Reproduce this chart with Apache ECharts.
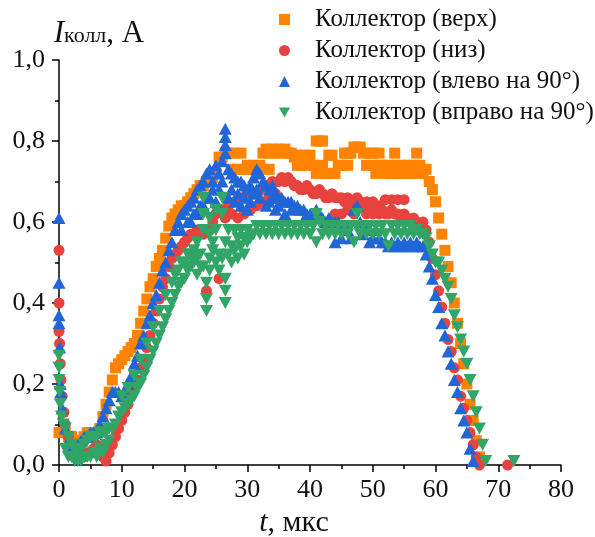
<!DOCTYPE html>
<html>
<head>
<meta charset="utf-8">
<script src="https://cdn.jsdelivr.net/npm/echarts@6/dist/echarts.min.js"></script>
<style>
  html, body { margin: 0; padding: 0; background: #fff; }
  #chart { width: 595px; height: 537px; }
</style>
</head>
<body>
<div id="chart"></div>
<script>
// legend names
var names = ["Коллектор (верх)", "Коллектор (низ)", "Коллектор (влево на 90°)", "Коллектор (вправо на 90°)"];

// [t, мкс ; I, A]
var verhData = [[0,0.08],[0.5,0.08],[1,0.08],[1.5,0.07],[2,0.07],[2.5,0.06],[3,0.05],[3.5,0.06],[4,0.07],[4.5,0.08],[5,0.08],[5.5,0.08],[6,0.08],[6.5,0.09],[7,0.12],[7.5,0.15],[8,0.18],[8.5,0.21],[9,0.24],[9.5,0.25],[10,0.26],[10.5,0.27],[11,0.28],[11.5,0.29],[12,0.3],[12.5,0.32],[13,0.35],[13.5,0.38],[14,0.41],[14.5,0.44],[15,0.46],[15.5,0.49],[16,0.51],[16.5,0.53],[17,0.56],[17.5,0.59],[18,0.61],[18.5,0.62],[19,0.63],[19.5,0.64],[20,0.64],[20.5,0.65],[21,0.66],[21.5,0.67],[22,0.68],[22.5,0.69],[23,0.69],[23.5,0.7],[24,0.7],[24.5,0.71],[25,0.72],[25.5,0.76],[26,0.76],[26.5,0.77],[27,0.77],[27.5,0.73],[28,0.77],[28.5,0.73],[29,0.77],[29.5,0.73],[30,0.74],[30.5,0.73],[31,0.74],[31.5,0.73],[32,0.74],[32.5,0.77],[32.5,0.73],[33,0.78],[33.5,0.77],[33.5,0.73],[34,0.78],[34.5,0.77],[35,0.78],[35.5,0.77],[36,0.78],[36.5,0.77],[37,0.77],[37.5,0.76],[38,0.74],[38,0.765],[38.5,0.74],[39,0.765],[39.5,0.74],[40,0.765],[40.5,0.74],[41,0.8],[41,0.72],[41.5,0.8],[42,0.74],[42,0.8],[42.5,0.72],[43,0.765],[43,0.72],[43.5,0.765],[44,0.72],[44.5,0.74],[45,0.74],[45.5,0.77],[46,0.74],[46,0.77],[46.5,0.77],[47,0.785],[47.5,0.785],[48,0.785],[48.5,0.77],[49,0.74],[49.5,0.77],[50,0.74],[50,0.77],[50.5,0.72],[51,0.77],[51,0.74],[51.5,0.74],[52,0.72],[52.5,0.74],[53,0.72],[53.5,0.77],[53.5,0.74],[54,0.72],[54.5,0.74],[55,0.72],[55.5,0.74],[56,0.72],[56.5,0.74],[57,0.77],[57,0.72],[57.5,0.74],[58,0.72],[58.5,0.73],[59,0.7],[59.5,0.68],[60,0.65],[60.5,0.61],[61,0.57],[61.5,0.53],[62,0.49],[62.5,0.45],[63,0.4],[63.5,0.35],[64,0.3],[64.5,0.25],[65,0.2],[65.5,0.15],[66,0.11],[66.5,0.06],[67,0.02]];

var nizData = [[0,0.53],[0,0.4],[0,0.33],[0.1,0.3],[0.2,0.25],[0.3,0.21],[0.5,0.17],[0.8,0.13],[1,0.1],[1.5,0.07],[2,0.05],[2.5,0.04],[3,0.03],[3.5,0.03],[4,0.02],[4.5,0.03],[5,0.03],[5.5,0.04],[6,0.05],[6.5,0.04],[7,0.02],[7.5,0.01],[8,0.03],[8.5,0.05],[9,0.07],[9.5,0.09],[10,0.11],[10.5,0.13],[11,0.15],[11.5,0.17],[12,0.19],[12.5,0.21],[13,0.24],[13.5,0.26],[14,0.29],[14.5,0.32],[15,0.35],[15.5,0.38],[16,0.41],[16.5,0.44],[17,0.46],[17.5,0.49],[18,0.51],[18.5,0.52],[19,0.53],[19.5,0.54],[20,0.55],[20.5,0.56],[21,0.57],[21.5,0.57],[22,0.58],[22.5,0.58],[23,0.57],[23.5,0.43],[24,0.58],[24.5,0.6],[25,0.62],[25.5,0.46],[26,0.63],[26.5,0.61],[27,0.64],[27.5,0.62],[28,0.65],[28.5,0.61],[29,0.66],[29.5,0.62],[30,0.67],[30.5,0.63],[31,0.67],[31.5,0.64],[32,0.68],[32.5,0.65],[33,0.69],[33.5,0.66],[34,0.7],[34.5,0.67],[35,0.7],[35.5,0.71],[36,0.7],[36.5,0.71],[37,0.7],[37.5,0.69],[38,0.69],[38.5,0.68],[39,0.68],[39.5,0.69],[40,0.68],[40.5,0.67],[41,0.67],[41.5,0.68],[42,0.67],[42.5,0.66],[43,0.66],[43.5,0.67],[44,0.66],[44,0.62],[44.5,0.66],[45,0.66],[45,0.62],[45.5,0.65],[46,0.66],[46,0.63],[46.5,0.65],[47,0.65],[47,0.62],[47.5,0.66],[48,0.65],[48.5,0.64],[49,0.65],[49,0.62],[49.5,0.64],[50,0.65],[50,0.62],[50.5,0.64],[51,0.64],[51,0.62],[51.5,0.63],[52,0.655],[52,0.62],[52.5,0.62],[53,0.655],[53,0.63],[53.5,0.62],[54,0.655],[54,0.62],[54.5,0.61],[55,0.655],[55,0.62],[55.5,0.61],[56,0.6],[56.5,0.61],[57,0.6],[57.5,0.59],[58,0.6],[58.5,0.58],[59,0.55],[59.5,0.51],[60,0.47],[60.5,0.43],[61,0.39],[61.5,0.35],[62,0.31],[62.5,0.28],[63,0.24],[63.5,0.21],[64,0.17],[64.5,0.14],[65,0.11],[65.5,0.08],[66,0.05],[66.5,0.02],[67,0.0],[71.5,0.0]];

var vlevoData = [[0,0.61],[0,0.45],[0,0.37],[0,0.35],[0.1,0.29],[0.2,0.2],[0.3,0.18],[0.5,0.14],[1,0.09],[1.5,0.06],[2,0.04],[2.5,0.04],[3,0.05],[3.5,0.06],[4,0.07],[4.5,0.07],[5,0.08],[5.5,0.08],[6,0.08],[6.5,0.1],[7,0.12],[7.5,0.14],[8,0.16],[8.5,0.18],[9,0.18],[9.5,0.18],[10,0.17],[10.5,0.18],[11,0.2],[11.5,0.22],[12,0.25],[12.5,0.27],[13,0.3],[13.5,0.32],[14,0.35],[14.5,0.37],[15,0.4],[15.5,0.42],[16,0.45],[16.5,0.48],[17,0.5],[17.5,0.53],[18,0.55],[18.5,0.58],[19,0.6],[19.5,0.62],[19.5,0.58],[20,0.63],[20.5,0.64],[20.5,0.6],[21,0.65],[21,0.6],[21.5,0.66],[21.5,0.62],[22,0.68],[22,0.62],[22.5,0.69],[22.5,0.64],[23,0.7],[23,0.64],[23.5,0.72],[23.5,0.66],[24,0.73],[24,0.66],[24.5,0.7],[24.5,0.68],[25,0.74],[25,0.65],[25.5,0.72],[25.5,0.68],[26,0.75],[26,0.7],[26.5,0.83],[26.5,0.81],[26.5,0.79],[26.5,0.77],[27,0.73],[27,0.66],[27.5,0.72],[27.5,0.68],[28,0.71],[28,0.65],[28.5,0.7],[28.5,0.67],[29,0.7],[29,0.64],[29.5,0.69],[29.5,0.66],[30,0.68],[30,0.63],[30.5,0.69],[30.5,0.65],[31,0.71],[31,0.67],[31.5,0.73],[31.5,0.68],[32,0.72],[32,0.66],[32.5,0.7],[33,0.69],[33,0.64],[33.5,0.68],[33.5,0.65],[34,0.69],[34,0.66],[34.5,0.67],[34.5,0.63],[35,0.66],[35,0.64],[35.5,0.66],[36,0.65],[36,0.62],[36.5,0.65],[37,0.65],[37,0.63],[37.5,0.64],[38,0.64],[38.5,0.63],[39,0.63],[39.5,0.62],[40,0.62],[40.5,0.61],[41,0.63],[41.5,0.62],[42,0.61],[42.5,0.6],[43,0.61],[43.5,0.6],[44,0.6],[44,0.55],[44.5,0.6],[45,0.59],[45,0.56],[45.5,0.59],[46,0.58],[46.5,0.56],[47,0.63],[47.5,0.64],[48,0.6],[48.5,0.57],[49,0.58],[49.5,0.55],[50,0.56],[50.5,0.58],[51,0.56],[51.5,0.55],[52,0.55],[52.5,0.54],[53,0.55],[53.5,0.54],[54,0.55],[54.5,0.54],[55,0.55],[55.5,0.54],[56,0.55],[56.5,0.54],[57,0.55],[57.5,0.54],[58,0.54],[58.5,0.52],[59,0.49],[59.5,0.46],[60,0.42],[60.5,0.39],[61,0.35],[61.5,0.32],[62,0.28],[62.5,0.25],[63,0.21],[63.5,0.18],[64,0.14],[64.5,0.11],[65,0.08],[65.5,0.04],[66,0.01]];

var vpravoData = [[0,0.27],[0,0.24],[0,0.21],[0.1,0.18],[0.2,0.15],[0.4,0.12],[0.7,0.1],[1,0.09],[1,0.04],[1.5,0.07],[1.5,0.02],[2,0.05],[2,0.02],[2.5,0.04],[2.5,0.01],[3,0.03],[3,0.01],[3.5,0.04],[3.5,0.01],[4,0.05],[4,0.02],[4.5,0.06],[4.5,0.02],[5,0.07],[5,0.02],[5.5,0.07],[5.5,0.03],[6,0.07],[6,0.02],[6.5,0.08],[6.5,0.04],[7,0.08],[7,0.03],[7.5,0.08],[7.5,0.05],[8,0.09],[8,0.06],[8.5,0.09],[9,0.1],[9.5,0.12],[10,0.13],[10,0.17],[10.5,0.14],[11,0.15],[11,0.19],[11.5,0.16],[12,0.17],[12,0.22],[12.5,0.19],[13,0.2],[13,0.26],[13.5,0.22],[14,0.24],[14,0.3],[14.5,0.26],[15,0.28],[15,0.34],[15.5,0.3],[16,0.32],[16,0.38],[16.5,0.34],[17,0.36],[17,0.42],[17.5,0.38],[18,0.4],[18,0.45],[18.5,0.42],[18.5,0.47],[19,0.44],[19,0.48],[19.5,0.45],[19.5,0.5],[20,0.46],[20,0.5],[20.5,0.48],[20.5,0.52],[21,0.49],[21,0.52],[21.5,0.5],[21.5,0.53],[22,0.47],[22,0.51],[22,0.55],[22.5,0.52],[22.5,0.49],[23,0.49],[23,0.58],[23,0.62],[23,0.66],[23.5,0.45],[23.5,0.41],[23.5,0.38],[24,0.51],[24,0.48],[24,0.57],[24,0.61],[24.5,0.53],[24.5,0.55],[25,0.5],[25,0.58],[25,0.63],[25.5,0.48],[25.5,0.52],[26,0.51],[26,0.62],[26,0.66],[26.5,0.46],[26.5,0.43],[26.5,0.4],[26.5,0.55],[27,0.52],[27,0.58],[27.5,0.5],[27.5,0.54],[28,0.53],[28,0.58],[28.5,0.51],[28.5,0.56],[29,0.54],[29,0.58],[29.5,0.52],[29.5,0.56],[30,0.55],[30,0.58],[30.5,0.56],[31,0.57],[31.5,0.59],[32,0.57],[32.5,0.59],[33,0.57],[33.5,0.59],[34,0.57],[34.5,0.59],[35,0.57],[35.5,0.59],[36,0.57],[36.5,0.59],[37,0.57],[37.5,0.59],[38,0.57],[38.5,0.59],[39,0.57],[39.5,0.59],[40,0.57],[40.5,0.59],[41,0.62],[41,0.55],[41.5,0.6],[42,0.57],[42.5,0.59],[43,0.57],[43.5,0.59],[44,0.57],[44.5,0.59],[45,0.57],[45.5,0.59],[46,0.57],[46.5,0.59],[47,0.55],[47.5,0.62],[47.5,0.59],[48,0.57],[48.5,0.59],[49,0.57],[49.5,0.59],[50,0.57],[50.5,0.59],[51,0.57],[51.5,0.59],[52,0.57],[52.5,0.54],[53,0.59],[53.5,0.57],[54,0.59],[54.5,0.57],[55,0.59],[55.5,0.57],[56,0.59],[56.5,0.57],[57,0.58],[57.5,0.57],[58,0.57],[58.5,0.56],[59,0.54],[59.5,0.52],[60,0.5],[60.5,0.5],[61,0.48],[61.5,0.46],[62,0.44],[62.5,0.41],[63,0.37],[63.5,0.34],[64,0.31],[64.5,0.28],[65,0.25],[65.5,0.21],[66,0.17],[66.5,0.13],[67,0.09],[67.5,0.05],[68,0.01],[72.5,0.01]];

var font = "'Liberation Serif', 'Times New Roman', serif";
var myChart = echarts.init(document.getElementById("chart"));

var axisCommon = {
  axisLine: { lineStyle: { color: "#000", width: 1.5 } },
  axisTick: { length: 7, lineStyle: { color: "#000", width: 1.5 } },
  minorTick: { show: true, splitNumber: 2, length: 4, lineStyle: { color: "#000", width: 1.5 } },
  splitLine: { show: false },
  axisLabel: { color: "#111", fontSize: 26, fontFamily: font }
};

var option = {
  animation: false,
  backgroundColor: "#fff",
  grid: { left: 59, right: 34, top: 60, bottom: 72, outerBoundsMode: "none" },
  legend: {
    orient: "vertical",
    left: 274,
    top: 2,
    itemWidth: 11,
    itemHeight: 11,
    itemGap: 6,
    textStyle: { fontFamily: font, fontSize: 25, color: "#111", padding: [0, 0, 0, 20] },
    data: names
  },
  xAxis: Object.assign({}, axisCommon, {
    type: "value",
    min: 0,
    max: 80,
    interval: 10,
    axisLabel: Object.assign({}, axisCommon.axisLabel, { margin: 12 }),
    name: "{i|t}{n|, мкс}",
    nameLocation: "middle",
    nameGap: 32,
    nameTextStyle: {
      padding: [0, 32, 0, 0],
      rich: {
        i: { fontFamily: font, fontSize: 30, fontStyle: "italic", color: "#111" },
        n: { fontFamily: font, fontSize: 30, color: "#111" }
      }
    }
  }),
  yAxis: Object.assign({}, axisCommon, {
    type: "value",
    min: 0,
    max: 1,
    interval: 0.2,
    axisLabel: Object.assign({}, axisCommon.axisLabel, {
      margin: 14,
      formatter: function (v) { return v.toFixed(1).replace(".", ","); }
    }),
    name: "{i|I}{s|колл}{n|, A}",
    nameLocation: "end",
    nameGap: 5,
    nameTextStyle: {
      align: "center",
      padding: [0, 0, 0, 80],
      rich: {
        i: { fontFamily: font, fontSize: 31, fontStyle: "italic", color: "#111", padding: [0, 0, 6, 0] },
        s: { fontFamily: font, fontSize: 22, color: "#111" },
        n: { fontFamily: font, fontSize: 31, color: "#111", padding: [0, 0, 6, 0] }
      }
    }
  }),
  series: [
    {
      name: names[0], type: "scatter", symbol: "rect", symbolSize: 11,
      itemStyle: { color: "#FF8200", opacity: 1 }, data: verhData
    },
    {
      name: names[1], type: "scatter", symbol: "circle", symbolSize: 11,
      itemStyle: { color: "#E8423F", opacity: 1 }, data: nizData
    },
    {
      name: names[2], type: "scatter", symbol: "triangle", symbolSize: [13, 12],
      itemStyle: { color: "#2166D8", opacity: 1 }, data: vlevoData
    },
    {
      name: names[3], type: "scatter", symbol: "path://M0,0L10,0L5,9Z", symbolSize: [13, 12],
      itemStyle: { color: "#30A566", opacity: 1 }, data: vpravoData
    }
  ]
};
myChart.setOption(option);
</script>
</body>
</html>
